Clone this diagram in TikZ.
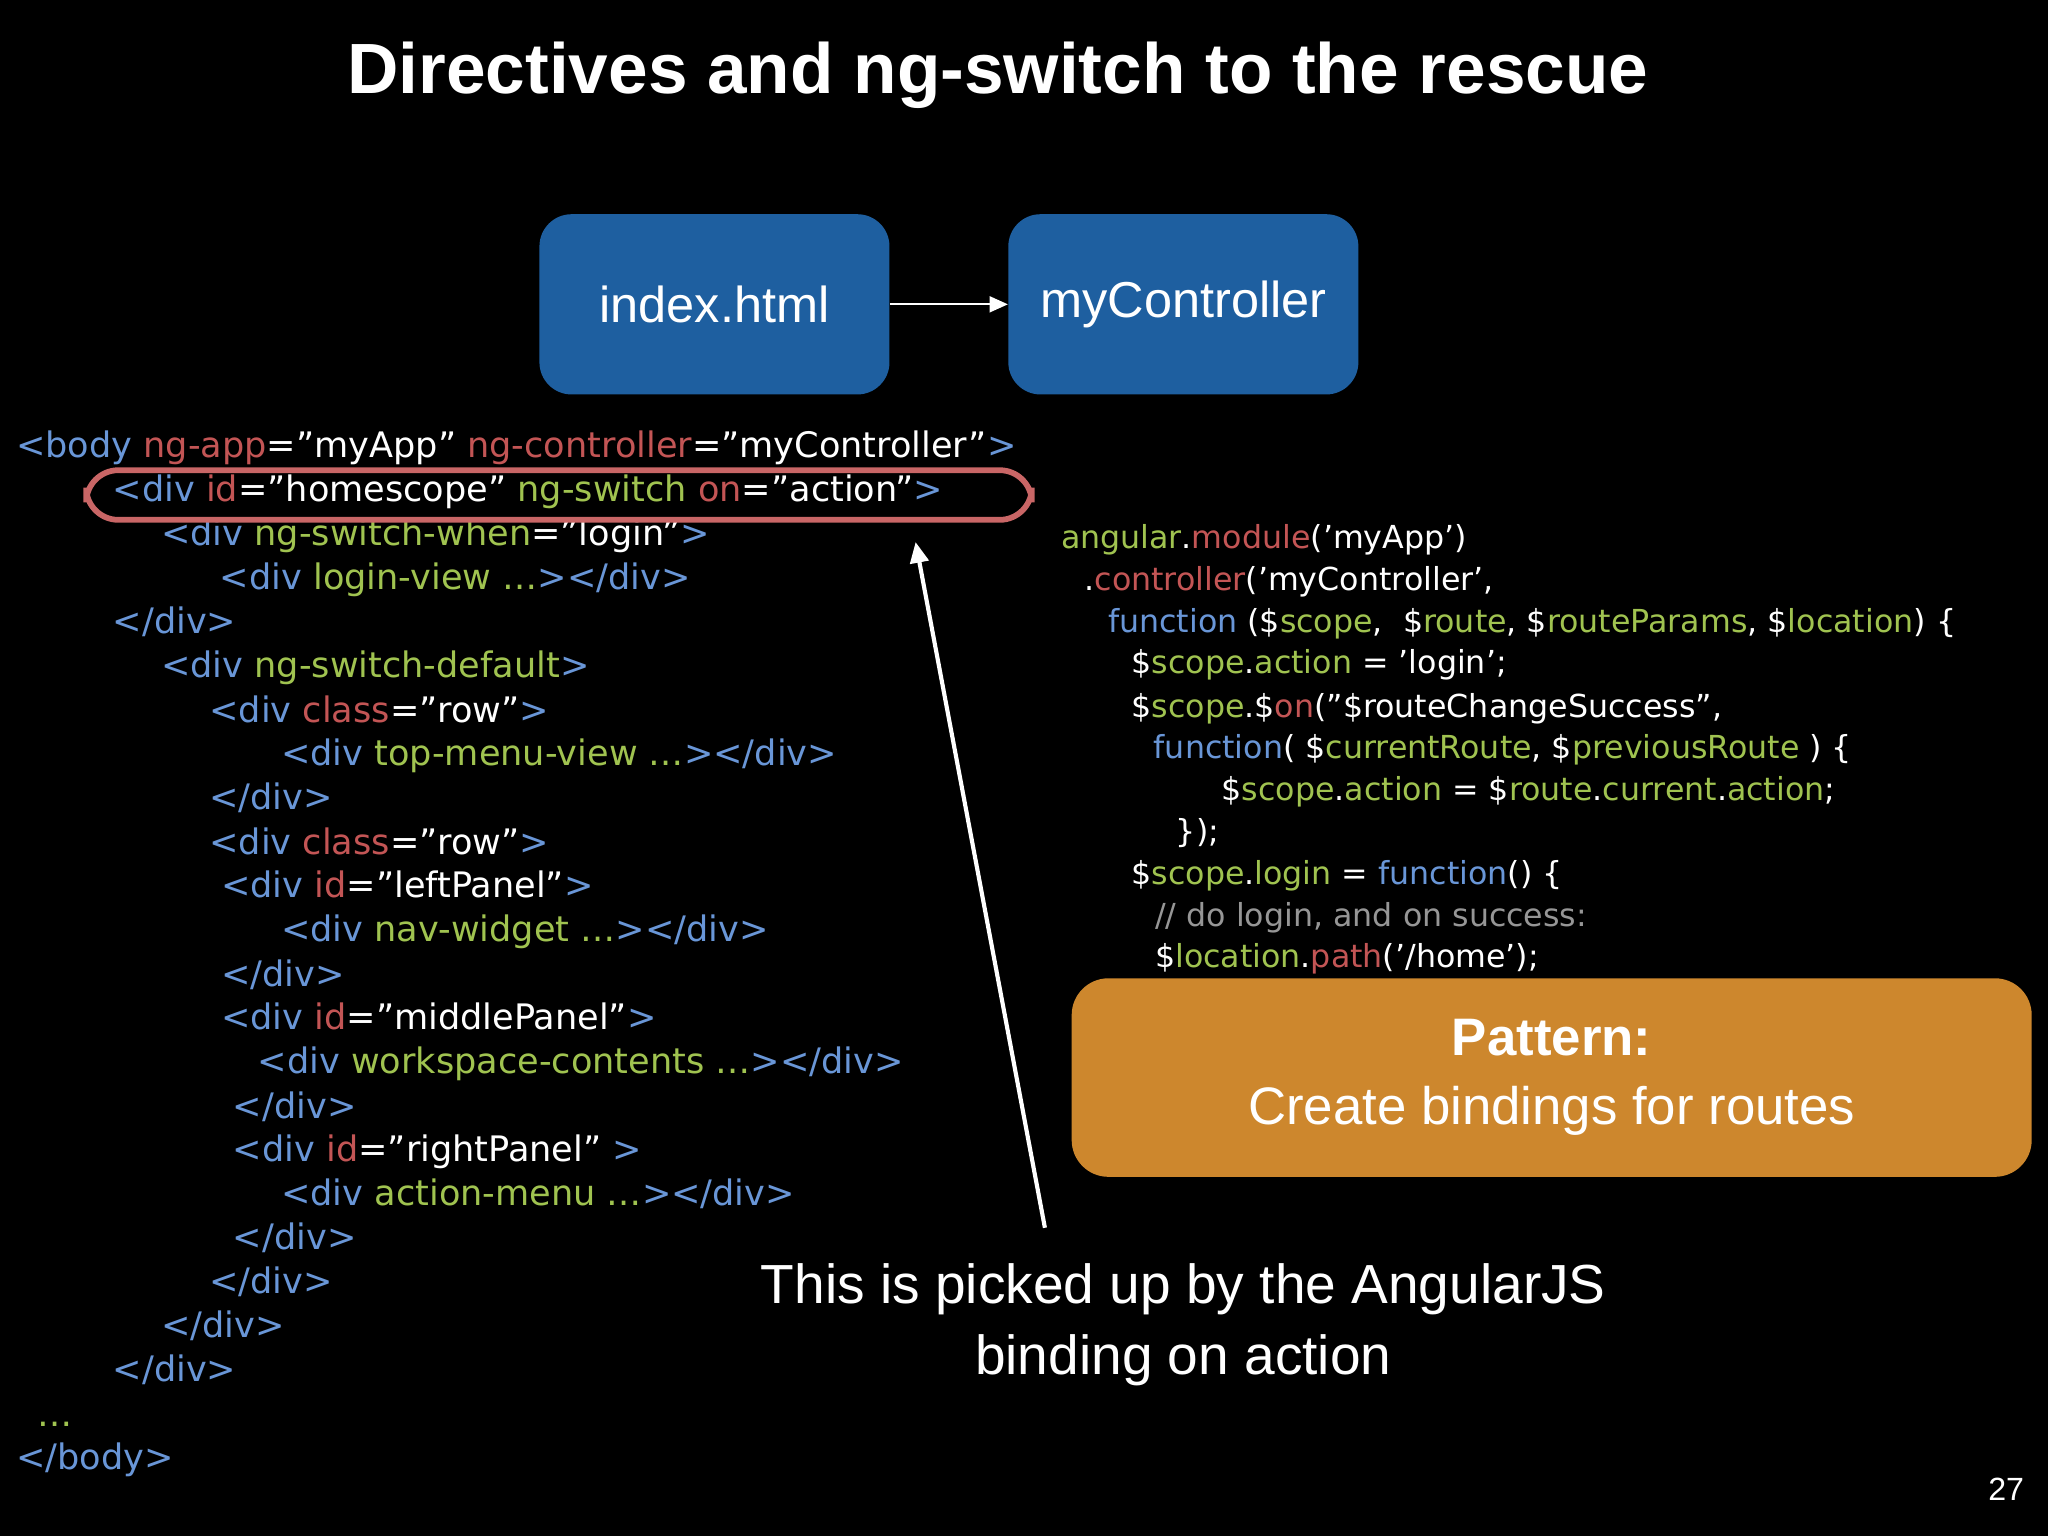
\documentclass[tikz,border=0pt]{standalone}
\usepackage{fontspec}
\setmainfont{DejaVu Sans}
\newfontfamily\hel{Liberation Sans}
\usetikzlibrary{arrows.meta}
\definecolor{tb}{RGB}{105,150,215}
\definecolor{trd}{RGB}{195,85,85}
\definecolor{tg}{RGB}{160,195,80}
\definecolor{tgy}{RGB}{150,150,150}
\definecolor{boxb}{RGB}{30,95,160}
\definecolor{boxo}{RGB}{205,135,45}
\newcommand{\xb}[1]{\textcolor{tb}{#1}}
\newcommand{\xr}[1]{\textcolor{trd}{#1}}
\newcommand{\xg}[1]{\textcolor{tg}{#1}}
\newcommand{\xy}[1]{\textcolor{tgy}{#1}}
\newcommand{\q}{\char34 }
\newcommand{\sq}{\char39 }
\begin{document}
\begin{tikzpicture}[x=0.02cm,y=-0.02cm,
 code/.style={anchor=base west,inner sep=0,font=\fontsize{15.3}{17}\selectfont,text=white},
 rcode/.style={anchor=base west,inner sep=0,font=\fontsize{13.8}{15}\selectfont,text=white},
 bbox/.style={fill=boxb,rounded corners=14pt,minimum width=268*0.02cm,minimum height=138*0.02cm,text=white,font=\hel\fontsize{22}{26}\selectfont}]
\fill[black] (0,0) rectangle (1568,1176);
\node[text=white,font=\hel\bfseries\fontsize{31}{34}\selectfont] (title) at (764,58) {Directives and ng-switch to the rescue};
\node[bbox] (idx) at (547,233) {index.html};
\node[bbox] (ctl) at (906,233) {myController};
\draw[white,thick,-{Triangle[length=8pt,width=7pt]}] (idx.east) -- (ctl.west);
% left code
\node[code] (l1) at (12,350) {\xb{<body} \xr{ng-app}=\q myApp\q{} \xr{ng-controller}=\q myController\q\xb{>}};
\node[code] (l2) at (86,384) {\xb{<div} \xr{id}=\q homescope\q{} \xg{ng-switch} \xr{on}=\q action\q\xb{>}};
\node[code] (l3) at (123,418) {\xb{<div} \xg{ng-switch-when}=\q login\q\xb{>}};
\node[code] (l4) at (168,451) {\xb{<div} \xg{login-view} \xg{…}\xb{></div>}};
\node[code] (l5) at (86,485) {\xb{</div>}};
\node[code] (l6) at (123,519) {\xb{<div} \xg{ng-switch-default}\xb{>}};
\node[code] (l7) at (160,553) {\xb{<div} \xr{class}=\q row\q\xb{>}};
\node[code] (l8) at (215,586) {\xb{<div} \xg{top-menu-view} \xg{…}\xb{></div>}};
\node[code] (l9) at (160,620) {\xb{</div>}};
\node[code] (l10) at (160,654) {\xb{<div} \xr{class}=\q row\q\xb{>}};
\node[code] (l11) at (169,687) {\xb{<div} \xr{id}=\q leftPanel\q\xb{>}};
\node[code] (l12) at (215,721) {\xb{<div} \xg{nav-widget} \xg{…}\xb{></div>}};
\node[code] (l13) at (169,755) {\xb{</div>}};
\node[code] (l14) at (169,788) {\xb{<div} \xr{id}=\q middlePanel\q\xb{>}};
\node[code] (l15) at (197,822) {\xb{<div} \xg{workspace-contents} \xg{…}\xb{></div>}};
\node[code] (l16) at (178,856) {\xb{</div>}};
\node[code] (l17) at (178,889) {\xb{<div} \xr{id}=\q rightPanel\q{} \xb{>}};
\node[code] (l18) at (215,923) {\xb{<div} \xg{action-menu} \xg{…}\xb{></div>}};
\node[code] (l19) at (178,957) {\xb{</div>}};
\node[code] (l20) at (160,990) {\xb{</div>}};
\node[code] (l21) at (123,1024) {\xb{</div>}};
\node[code] (l22) at (86,1058) {\xb{</div>}};
\node[code] (l23) at (28,1092) {\xg{…}};
\node[code] (l24) at (12,1125) {\xb{</body>}};
% highlight
\draw[color=trd!90!white,line width=2.5pt,rounded corners=14pt] (66,360) rectangle (790,398);
% right code
\node[rcode] (r1) at (812,420) {\xg{angular}.\xr{module}(\sq myApp\sq)};
\node[rcode] (r2) at (830,452) {.\xr{controller}(\sq myController\sq,};
\node[rcode] (r3) at (848,484) {\xb{function} (\$\xg{scope},\ \ \$\xg{route}, \$\xg{routeParams}, \$\xg{location}) \{};
\node[rcode] (r4) at (866,516) {\$\xg{scope}.\xg{action} = \sq login\sq;};
\node[rcode] (r5) at (866,549) {\$\xg{scope}.\$\xr{on}(\q\$routeChangeSuccess\q,};
\node[rcode] (r6) at (883,581) {\xb{function}( \$\xg{currentRoute}, \$\xg{previousRoute} ) \{};
\node[rcode] (r7) at (935,613) {\$\xg{scope}.\xg{action} = \$\xg{route}.\xg{current}.\xg{action};};
\node[rcode] (r8) at (900,645) {\});};
\node[rcode] (r9) at (866,677) {\$\xg{scope}.\xg{login} = \xb{function}() \{};
\node[rcode] (r10) at (884,709) {\xy{// do login, and on success:}};
\node[rcode] (r11) at (884,741) {\$\xg{location}.\xr{path}(\sq/home\sq);};
% pattern box
\node[fill=boxo,rounded corners=16pt,minimum width=735*0.02cm,minimum height=152*0.02cm,text=white,align=center,font=\hel\fontsize{23}{30}\selectfont] (pat) at (1188,825) {\textbf{Pattern:}\\Create bindings for routes};
% bottom note and arrow
\node[text=white,align=center,font=\hel\fontsize{24}{31}\selectfont] (note) at (906,1014) {This is picked up by the AngularJS\\binding on action};
\coordinate (ta) at (701,415);
\coordinate (fa) at (800,940);
\draw[white,line width=1.8pt,-{Triangle[length=9pt,width=8pt]}] (fa) -- (ta);
\node[text=white,font=\hel\fontsize{14}{16}\selectfont] (pg) at (1536,1140) {27};
\end{tikzpicture}
\end{document}
